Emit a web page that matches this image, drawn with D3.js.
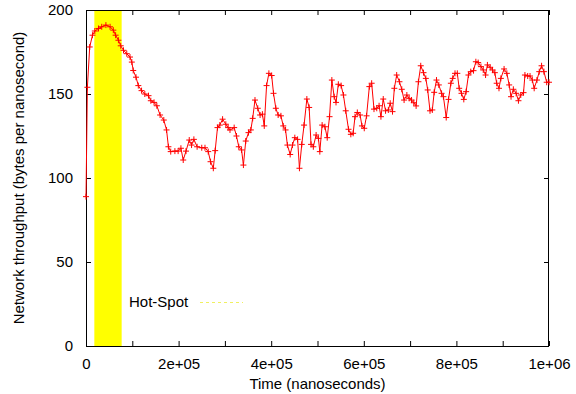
<!DOCTYPE html>
<html><head><meta charset="utf-8">
<script src="https://cdn.jsdelivr.net/npm/d3@7"></script>
<style>
html,body{margin:0;padding:0;background:#fff;}
svg text{font-family:"Liberation Sans",Arial,sans-serif;font-size:15px;fill:#000;}
</style></head>
<body><svg id="c" width="576" height="394"></svg>
<script>
// time in nanoseconds
const times = [0,3000,8000,14000,19000,27000,34000,43000,52000,59000,64000,70000,75000,81000,88000,95000,99000,102000,108000,113000,120000,127000,135000,140000,147000,153000,160000,168000,174000,178000,183000,192000,199000,205000,210000,216000,223000,228000,233000,240000,250000,257000,264000,269000,275000,279000,284000,289000,295000,302000,307000,311000,320000,325000,330000,336000,340000,345000,351000,356000,360000,365000,371000,376000,381000,385000,390000,395000,401000,405000,410000,415000,421000,426000,431000,435000,441000,446000,451000,457000,461000,466000,471000,477000,482000,486000,491000,497000,502000,505000,510000,516000,521000,526000,531000,536000,540000,545000,551000,556000,561000,567000,572000,577000,581000,586000,592000,596000,601000,606000,612000,617000,622000,628000,633000,637000,642000,647000,653000,657000,662000,666000,671000,677000,682000,687000,693000,698000,703000,708000,713000,718000,723000,729000,734000,738000,743000,748000,752000,757000,762000,768000,772000,778000,783000,788000,792000,797000,802000,806000,811000,816000,821000,826000,831000,837000,842000,847000,853000,858000,863000,867000,873000,878000,883000,887000,892000,896000,903000,909000,914000,918000,923000,929000,934000,939000,945000,948000,954000,959000,964000,968000,974000,979000,984000,989000,995000,1000000];
// network throughput (bytes per nanosecond)
const throughput = [88.9,154,178,185,187.5,189,190,191,190,188,185,182,178.7,176,174,172,169,164,160,155,152,150,149,146,145,143,137.5,134.5,128.6,118.6,115.7,116,116,117.7,110.7,116,122.6,119.6,123,118.6,118,118,115.7,109.7,105.8,116.3,130,131.5,135,132,130,128.6,130,125,118.6,116.7,107.7,122,127,128.6,135.5,146.4,141.5,137.5,138,131,155,162.3,161,150.4,141.5,137.5,137,131,128.6,119.6,114,119.6,124,123,105.8,120,131.5,147,142,120,118.6,125.6,123.6,115.7,131.5,130.5,124,136.5,158.3,148.4,145,155.8,155,149.4,140,129,126,126.6,136.5,139,137.5,131,129.6,137,154.4,156.4,141,141.5,143,136.5,147,140,140.5,144.5,139.5,153.4,161.3,157.3,152.8,146.4,149.4,147.4,146.4,144.8,142.9,157.3,166.8,162.7,159.3,152.4,140,140.5,151,158.3,155.4,150.4,148.4,136,146.8,156.4,159.3,162.3,162.3,153.4,150.4,146.8,151.4,161.3,163.3,163.9,169.2,168.7,166.3,164.3,161.3,167.3,165.9,164.3,162.7,156.4,153.4,159.3,164.9,162.3,155.4,148.4,152.8,150.4,146,149.4,150.8,161.3,160.7,160.7,158.3,153.4,158.3,163.3,166.8,163.3,157,157];
const hotSpot = [18000, 77000];
const xTicks = [0,100000,200000,300000,400000,500000,600000,700000,800000,900000,1000000];
const xTickLabels = ["0","","2e+05","","4e+05","","6e+05","","8e+05","","1e+06"];
const yTicks = [0,50,100,150,200];
const yTickLabels = ["0","50","100","150","200"];
const legendLabel = "Hot-Spot";
const xTitle = "Time (nanoseconds)";
const yTitle = "Network throughput (bytes per nanosecond)";

const L = 86, R = 549, T = 10, B = 346;
const svg = d3.select("#c");
const x = d3.scaleLinear().domain([0, 1000000]).range([L, R]);
const y = d3.scaleLinear().domain([0, 200]).range([B, T]);

// hot-spot band
svg.append("rect").attr("x", x(hotSpot[0])).attr("y", T)
  .attr("width", x(hotSpot[1]) - x(hotSpot[0])).attr("height", B - T)
  .attr("fill", "#ffff00");

// axes
const xb = svg.append("g").attr("transform", `translate(0,${B})`)
  .call(d3.axisBottom(x).tickValues(xTicks).tickSize(-5).tickPadding(12)
    .tickFormat((d, i) => xTickLabels[i]));
const xt = svg.append("g").attr("transform", `translate(0,${T})`)
  .call(d3.axisTop(x).tickValues(xTicks).tickSize(-5).tickFormat(""));
const yl = svg.append("g").attr("transform", `translate(${L},0)`)
  .call(d3.axisLeft(y).tickValues(yTicks).tickSize(-5).tickPadding(13)
    .tickFormat((d, i) => yTickLabels[i]));
const yr = svg.append("g").attr("transform", `translate(${R},0)`)
  .call(d3.axisRight(y).tickValues(yTicks).tickSize(-5).tickFormat(""));
[xb, xt, yl, yr].forEach(g => {
  g.select(".domain").remove();
  g.selectAll("line").attr("stroke", "#000");
  g.selectAll("text").attr("font-family", null).attr("font-size", null).attr("fill", "#000");
});
svg.append("rect").attr("x", L + 0.5).attr("y", T + 0.5).attr("width", R - L - 1).attr("height", B - T)
  .attr("fill", "none").attr("stroke", "#000").attr("stroke-width", 1);

// series
const pts = times.map((t, i) => [t, throughput[i]]);
svg.append("path").datum(pts)
  .attr("d", d3.line().x(d => x(d[0])).y(d => y(d[1])))
  .attr("fill", "none").attr("stroke", "#ff0000").attr("stroke-width", 1);
const s = 3;
svg.append("g").selectAll("path").data(pts).join("path")
  .attr("d", d => { const px = x(d[0]), py = y(d[1]); return `M${px - s},${py}H${px + s}M${px},${py - s}V${py + s}`; })
  .attr("stroke", "#ff0000").attr("stroke-width", 1).attr("fill", "none");

// legend
svg.append("text").attr("x", 129).attr("y", 307).text(legendLabel);
svg.append("line").attr("x1", 200).attr("x2", 243).attr("y1", 302.5).attr("y2", 302.5)
  .attr("stroke", "#f0f060").attr("stroke-width", 1).attr("stroke-dasharray", "3,3");

// titles
svg.append("text").attr("x", (L + R) / 2).attr("y", 389).attr("text-anchor", "middle").text(xTitle);
svg.append("text").attr("transform", `translate(24,${(T + B) / 2}) rotate(-90)`)
  .attr("text-anchor", "middle").text(yTitle);
</script></body></html>
